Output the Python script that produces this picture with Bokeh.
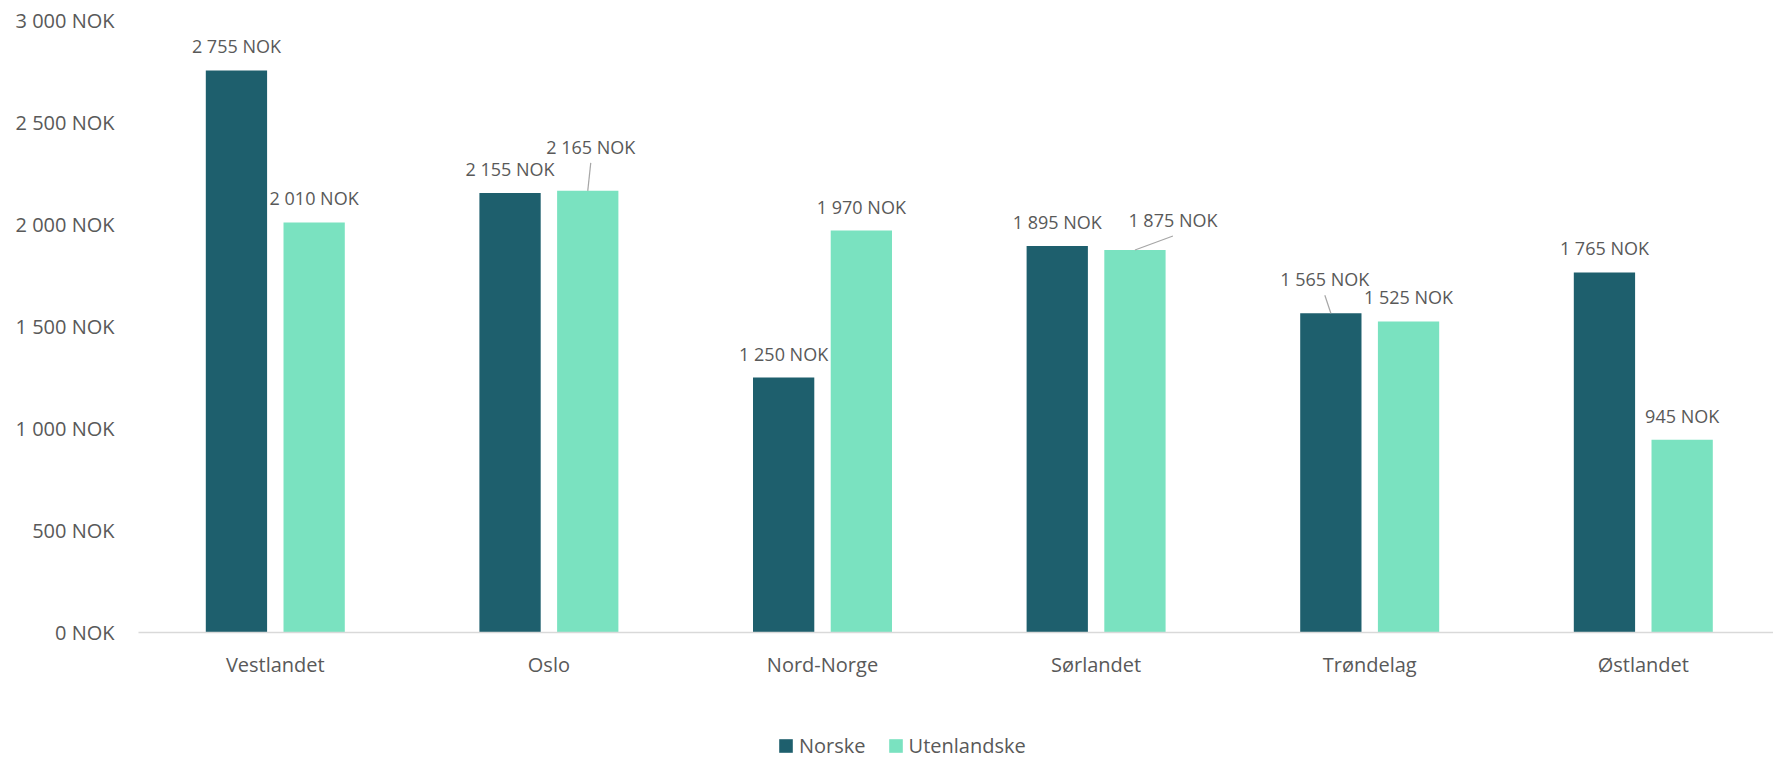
from bokeh.plotting import figure
from bokeh.layouts import column
from bokeh.models import (ColumnDataSource, Range1d, FixedTicker, Legend, LegendItem)
from bokeh.embed import file_html
from bokeh.resources import INLINE
from bokeh.core.properties import value

# ---- data ----
regions = ["Vestlandet", "Oslo", "Nord-Norge", "Sørlandet", "Trøndelag", "Østlandet"]
norske = [2755, 2155, 1250, 1895, 1565, 1765]
utenlandske = [2010, 2165, 1970, 1875, 1525, 945]
series_names = ["Norske", "Utenlandske"]
y_ticks = [0, 500, 1000, 1500, 2000, 2500, 3000]
y_tick_labels = ["0 NOK", "500 NOK", "1 000 NOK", "1 500 NOK", "2 000 NOK", "2 500 NOK", "3 000 NOK"]

# ---- label placement (pixels, relative to default spot above bar) ----
norske_dx = [0, 0, 0, 0, -6, 0]
norske_dy = [0, 0, 0, 0, -10, 0]
norske_leader = [False, False, False, False, True, False]
uten_dx = [0, 3, 0, 38, 0, 0]
uten_dy = [0, -20, 0, -6, 0, 0]
uten_leader = [False, True, False, True, False, False]

# ---- style ----
C_DARK = "#1E5F6D"
C_LIGHT = "#7AE2C0"
TXT = "#595959"
FONT = "Open Sans"
W, H = 1773, 759
LEG_H = 59
H_MAIN = H - LEG_H
LEFT, RIGHT, TOP = 138, 0, 20
BOTTOM = H_MAIN - TOP - 612
FRAME_W = W - LEFT - RIGHT
FRAME_H = H_MAIN - TOP - BOTTOM
CAT_PX = 273.6
X_END = FRAME_W / CAT_PX
Y_MAX = 3000
BAR_W = 0.224
DODGE = 0.142
LABEL_GAP = 24

def fmt(v):
    return f"{v:,}".replace(",", " ") + " NOK"

p = figure(width=W, height=H_MAIN, output_backend="svg", toolbar_location=None,
           x_range=Range1d(0, X_END), y_range=Range1d(0, Y_MAX),
           min_border_left=LEFT, min_border_right=RIGHT,
           min_border_top=TOP, min_border_bottom=BOTTOM)
p.outline_line_color = None
p.background_fill_color = "white"
p.border_fill_color = "white"
p.xgrid.visible = False
p.ygrid.visible = False

centers = [i + 0.5 for i in range(len(regions))]

src_n = ColumnDataSource(dict(
    x=[c - DODGE for c in centers], top=norske,
    label=[fmt(v) for v in norske],
    dx=norske_dx, dy=[d - LABEL_GAP for d in norske_dy]))
src_u = ColumnDataSource(dict(
    x=[c + DODGE for c in centers], top=utenlandske,
    label=[fmt(v) for v in utenlandske],
    dx=uten_dx, dy=[d - LABEL_GAP for d in uten_dy]))

p.vbar(x="x", top="top", width=BAR_W, source=src_n, fill_color=C_DARK, line_color=None)
p.vbar(x="x", top="top", width=BAR_W, source=src_u, fill_color=C_LIGHT, line_color=None)

for src in (src_n, src_u):
    p.text(x="x", y="top", text="label", source=src, x_offset="dx", y_offset="dy",
           text_align="center", text_baseline="middle", text_font=value(FONT),
           text_font_size="18px", text_color=TXT)

# leader lines (converted from pixels to data units)
y_per_px = Y_MAX / FRAME_H
x0, y0, x1, y1 = [], [], [], []
for xs, vals, dxs, dys, flags in ((src_n.data["x"], norske, norske_dx, norske_dy, norske_leader),
                                  (src_u.data["x"], utenlandske, uten_dx, uten_dy, uten_leader)):
    for xv, v, dx, dy, f in zip(xs, vals, dxs, dys, flags):
        if f:
            x0.append(xv + dx / CAT_PX)
            y0.append(v + (LABEL_GAP - dy - 16) * y_per_px)
            x1.append(xv)
            y1.append(v)
p.segment(x0=x0, y0=y0, x1=x1, y1=y1, line_color="#A6A6A6", line_width=1.2)

# axes
p.yaxis.ticker = FixedTicker(ticks=y_ticks)
p.yaxis.major_label_overrides = {t: l for t, l in zip(y_ticks, y_tick_labels)}
p.yaxis.axis_line_color = None
p.yaxis.major_tick_line_color = None
p.yaxis.minor_tick_line_color = None
p.yaxis.major_label_standoff = 18
p.yaxis.major_label_text_font = FONT
p.yaxis.major_label_text_font_size = "20px"
p.yaxis.major_label_text_color = TXT

p.xaxis.ticker = FixedTicker(ticks=centers)
p.xaxis.major_label_overrides = {c: r for c, r in zip(centers, regions)}
p.xaxis.axis_line_color = "#D9D9D9"
p.xaxis.axis_line_width = 1.5
p.xaxis.major_tick_line_color = None
p.xaxis.minor_tick_line_color = None
p.xaxis.major_label_standoff = 12
p.xaxis.major_label_text_font = FONT
p.xaxis.major_label_text_font_size = "20px"
p.xaxis.major_label_text_color = TXT

# ---- legend in its own strip below (so it is not clipped by the plot frame) ----
lg = figure(width=W, height=LEG_H, output_backend="svg", toolbar_location=None,
            x_range=Range1d(0, 1), y_range=Range1d(0, 1),
            min_border_left=0, min_border_right=0, min_border_top=0, min_border_bottom=0)
lg.axis.visible = False
lg.grid.visible = False
lg.outline_line_color = None
lg.border_fill_color = "white"
lg.background_fill_color = "white"
# one swatch point each, placed outside the visible range (only used by the legend)
d_n = lg.vbar(x=[10], top=[1], width=0.1, fill_color=C_DARK, line_color=None)
d_u = lg.vbar(x=[10], top=[1], width=0.1, fill_color=C_LIGHT, line_color=None)
legend = Legend(items=[LegendItem(label=series_names[0], renderers=[d_n]),
                       LegendItem(label=series_names[1], renderers=[d_u])],
                orientation="horizontal", location=(639, 0),
                glyph_width=17, glyph_height=17, label_standoff=5, spacing=21,
                label_height=17,
                padding=0, margin=0, border_line_color=None, background_fill_alpha=0,
                label_text_font=FONT, label_text_font_size="20px", label_text_color=TXT)
lg.add_layout(legend, "center")

layout = column(p, lg, spacing=0)
open("out.html", "w").write(file_html(layout, INLINE))
